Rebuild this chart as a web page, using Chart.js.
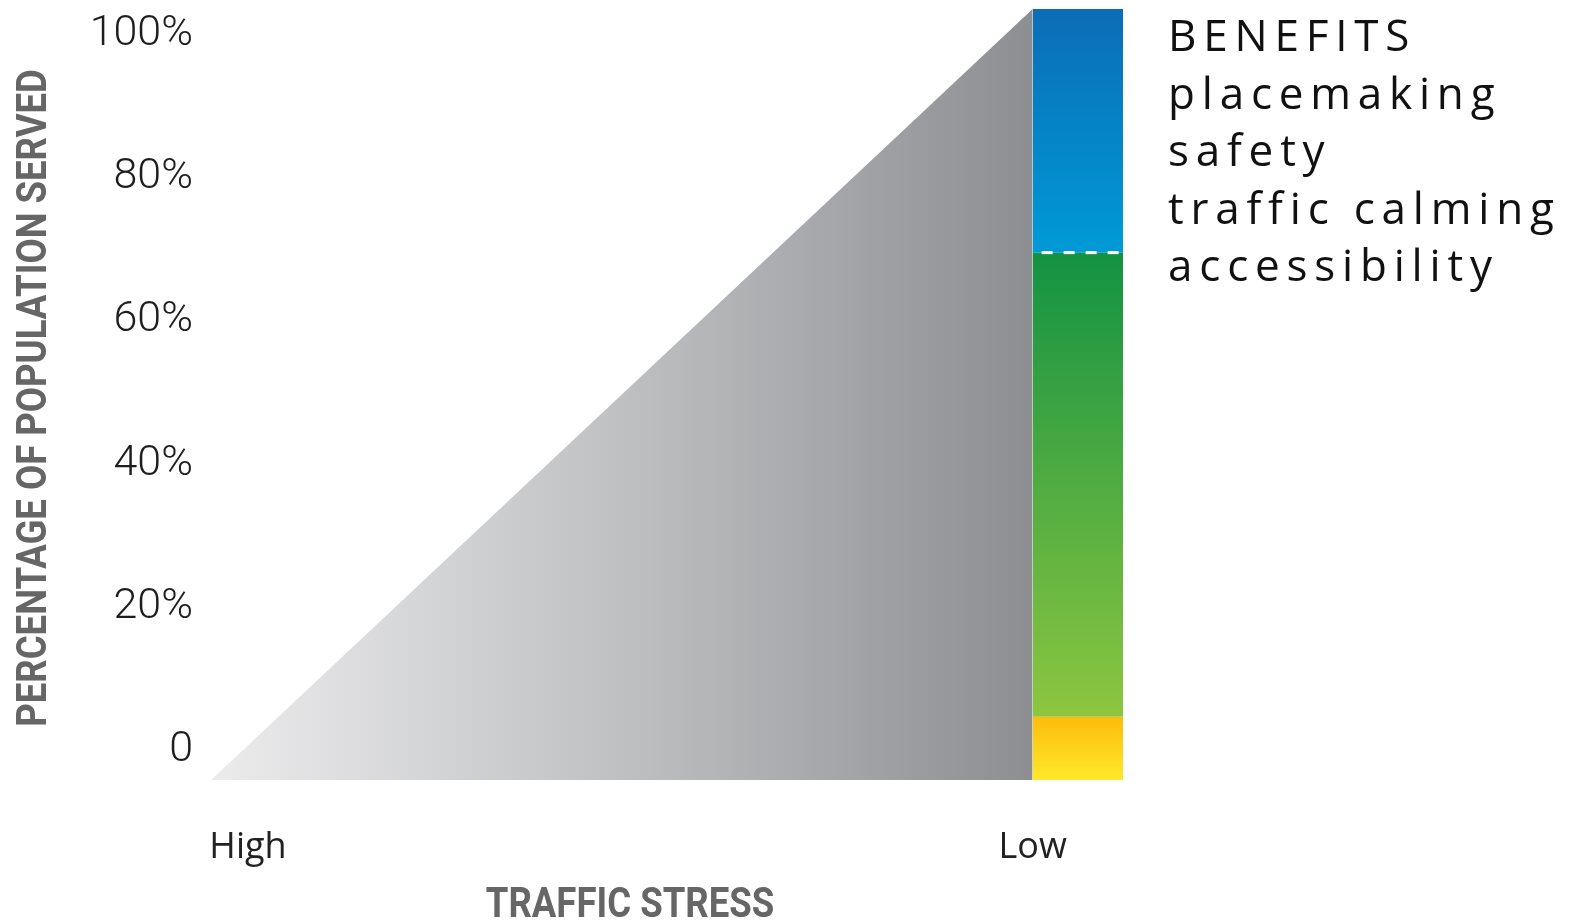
<!DOCTYPE html>
<html>
<head>
<meta charset="utf-8">
<title>Traffic stress vs population served</title>
<script src="https://cdn.jsdelivr.net/npm/chart.js@4.4.1/dist/chart.umd.min.js"></script>
<style>
    html, body { margin: 0; padding: 0; background: #fff; }
    #wrap { position: relative; width: 1573px; height: 922px; }
    #benefits {
        position: absolute;
        left: 1168px;
        top: 6px;
        margin: 0;
        padding: 0;
        list-style: none;
        font-family: 'Open Sans', sans-serif;
        font-size: 44px;
        line-height: 57.5px;
        letter-spacing: 6.8px;
        color: #111;
        white-space: nowrap;
    }
</style>
</head>
<body>
<div id="wrap">
    <canvas id="stressChart"></canvas>
    <ul id="benefits"></ul>
</div>
<script>
// Данные графика
const stressLabels = ['High', 'Low'];
const stressTicks = [0.045, 1];
const populationTicks = [0, 20, 40, 60, 80, 100];
const triangleX = [0, 1];
const triangleY = [0, 100];
// границы сегментов столбца: жёлтый / зелёный / синий
const segmentBounds = [0, 8.2, 68.4, 100];
const barSpan = [1, 1.11];
const benefitsDivider = 68.4;
const benefitsList = ['BENEFITS', 'placemaking', 'safety', 'traffic calming', 'accessibility'];
const xTitle = 'TRAFFIC STRESS';
const yTitle = 'PERCENTAGE OF POPULATION SERVED';

// Цвета градиентов (верх, низ)
const segmentColors = [
    ['#fbbd0a', '#ffe82c'],
    ['#139243', '#8dc640'],
    ['#0b6db6', '#009ad7']
];

// Список преимуществ справа
const list = document.getElementById('benefits');
benefitsList.forEach(text => {
    const li = document.createElement('li');
    li.textContent = text;
    list.appendChild(li);
});

// Горизонтальный градиент треугольника
function triangleFill(context) {
    const chart = context.chart;
    if (!chart.chartArea) return '#bbb';
    const xs = chart.scales.x;
    const g = chart.ctx.createLinearGradient(xs.getPixelForValue(triangleX[0]), 0, xs.getPixelForValue(triangleX[1]), 0);
    g.addColorStop(0, '#ececed');
    g.addColorStop(0.5, '#bfc0c2');
    g.addColorStop(1, '#8d8e92');
    return g;
}

// Вертикальный градиент для сегмента столбца
function segmentFill(i) {
    return function(context) {
        const chart = context.chart;
        if (!chart.chartArea) return segmentColors[i][0];
        const ys = chart.scales.y;
        const g = chart.ctx.createLinearGradient(0, ys.getPixelForValue(segmentBounds[i + 1]), 0, ys.getPixelForValue(segmentBounds[i]));
        g.addColorStop(0, segmentColors[i][0]);
        g.addColorStop(1, segmentColors[i][1]);
        return g;
    };
}

const datasets = [];

// Пунктир между синим и зелёным
datasets.push({
    label: 'divider',
    data: barSpan.map(x => ({ x, y: benefitsDivider })),
    borderColor: '#ffffff',
    borderWidth: 3,
    borderDash: [11, 11],
    borderDashOffset: 13,
    pointRadius: 0,
    fill: false
});

// Сегменты столбца
for (let i = segmentColors.length - 1; i >= 0; i--) {
    datasets.push({
        label: 'segment ' + i,
        data: barSpan.map(x => ({ x, y: segmentBounds[i + 1] })),
        borderWidth: 0,
        pointRadius: 0,
        backgroundColor: segmentFill(i),
        fill: { value: segmentBounds[i] }
    });
}

// Треугольник
datasets.push({
    label: 'population served',
    data: triangleX.map((x, i) => ({ x, y: triangleY[i] })),
    borderWidth: 0,
    pointRadius: 0,
    backgroundColor: triangleFill,
    fill: 'origin'
});

// Подписи осей узким жирным шрифтом (сжатие по горизонтали)
const axisTitlesPlugin = {
    id: 'axisTitles',
    afterDraw(chart) {
        const ctx = chart.ctx;
        ctx.save();
        ctx.font = 'bold 42px Roboto, sans-serif';
        ctx.fillStyle = '#666666';
        ctx.textAlign = 'center';
        ctx.textBaseline = 'middle';

        ctx.save();
        ctx.translate(630, 906);
        ctx.scale(0.87, 1);
        ctx.fillText(xTitle, 0, 0);
        ctx.restore();

        ctx.save();
        ctx.translate(35, 398);
        ctx.rotate(-Math.PI / 2);
        ctx.scale(0.87, 1);
        ctx.fillText(yTitle, 0, 0);
        ctx.restore();

        ctx.restore();
    }
};

new Chart(document.getElementById('stressChart'), {
    type: 'line',
    data: { datasets },
    plugins: [axisTitlesPlugin],
    options: {
        responsive: true,
        maintainAspectRatio: false,
        animation: false,
        layout: { padding: { top: 9, right: 450, bottom: 1, left: 0 } },
        plugins: {
            legend: { display: false },
            tooltip: { enabled: false }
        },
        scales: {
            x: {
                type: 'linear',
                min: 0,
                max: barSpan[1],
                grid: { display: false, drawTicks: false },
                border: { display: false },
                afterBuildTicks: axis => { axis.ticks = stressTicks.map(v => ({ value: v })); },
                afterFit: axis => {
                    axis.height = 141;
                    axis.paddingLeft = 0;
                    axis.paddingRight = 0;
                },
                ticks: {
                    autoSkip: false,
                    maxRotation: 0,
                    padding: 46,
                    color: '#222',
                    font: { family: "'Open Sans', sans-serif", size: 36 },
                    callback: (v, i) => stressLabels[i]
                }
            },
            y: {
                type: 'linear',
                min: 0,
                max: 100,
                display: false
            },
            yLabel: {
                type: 'linear',
                position: 'left',
                min: -4.15,
                max: 103.5,
                grid: { display: false, drawTicks: false },
                border: { display: false },
                afterBuildTicks: axis => { axis.ticks = populationTicks.map(v => ({ value: v })); },
                afterFit: axis => {
                    axis.width = 211;
                    axis.paddingTop = 0;
                    axis.paddingBottom = 0;
                },
                ticks: {
                    autoSkip: false,
                    padding: 18,
                    color: '#1e1e1e',
                    font: { family: 'Roboto, sans-serif', size: 43, weight: 300 },
                    callback: v => v === 0 ? '0' : v + '%'
                }
            }
        }
    }
});
</script>
</body>
</html>
